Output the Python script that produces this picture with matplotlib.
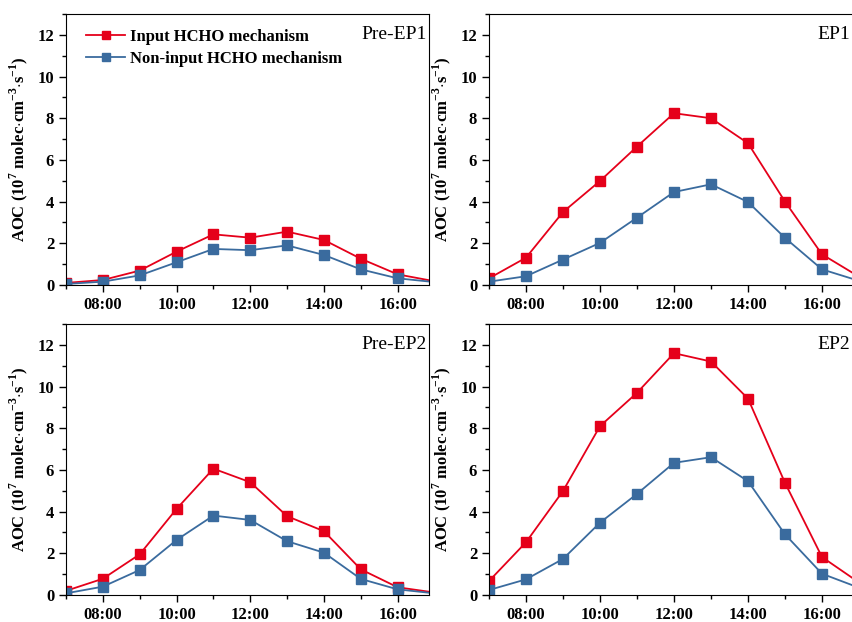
import numpy as np
import matplotlib.pyplot as plt
from matplotlib.ticker import MultipleLocator, FuncFormatter

plt.rcParams['font.family'] = ['Liberation Serif', 'DejaVu Serif']
plt.rcParams['mathtext.fontset'] = 'custom'
plt.rcParams['mathtext.rm'] = 'Liberation Serif:bold'
plt.rcParams['mathtext.bf'] = 'Liberation Serif:bold'

hours = np.arange(7, 18)  # 07:00 ... 17:00

panels = ['Pre-EP1', 'EP1', 'Pre-EP2', 'EP2']

# AOC values, 10^7 molec cm-3 s-1
pre_ep1_input = [0.10, 0.24, 0.69, 1.60, 2.43, 2.27, 2.56, 2.16, 1.26, 0.51, 0.18]
pre_ep1_non = [0.05, 0.16, 0.46, 1.09, 1.73, 1.67, 1.90, 1.44, 0.75, 0.32, 0.14]
ep1_input = [0.32, 1.31, 3.50, 4.99, 6.64, 8.24, 8.00, 6.80, 4.00, 1.47, 0.40]
ep1_non = [0.16, 0.42, 1.22, 2.02, 3.23, 4.46, 4.83, 3.98, 2.26, 0.75, 0.20]
pre_ep2_input = [0.20, 0.78, 1.95, 4.13, 6.06, 5.41, 3.78, 3.06, 1.23, 0.37, 0.12]
pre_ep2_non = [0.08, 0.40, 1.20, 2.64, 3.81, 3.60, 2.58, 2.03, 0.77, 0.27, 0.08]
ep2_input = [0.67, 2.53, 4.99, 8.10, 9.70, 11.60, 11.20, 9.42, 5.38, 1.82, 0.60]
ep2_non = [0.24, 0.75, 1.73, 3.47, 4.85, 6.34, 6.61, 5.46, 2.91, 1.02, 0.35]

series = [(pre_ep1_input, pre_ep1_non), (ep1_input, ep1_non),
          (pre_ep2_input, pre_ep2_non), (ep2_input, ep2_non)]

red = '#E5001A'
blue = '#3A6B9E'

fig = plt.figure(figsize=(8.53, 6.22), dpi=100)

W, H = 853, 622
# left, top, width, height of each axes in pixels
boxes = [(66, 14, 363, 271), (489, 14, 370, 271),
         (66, 324, 363, 271), (489, 324, 370, 271)]
xmax = [16.85, 17.0, 16.85, 17.0]

for i, (name, (s_in, s_non)) in enumerate(zip(panels, series)):
    x0, y0, w, h = boxes[i]
    ax = fig.add_axes([x0 / W, 1 - (y0 + h) / H, w / W, h / H])
    ax.plot(hours, s_in, '-s', color=red, lw=1.3, ms=7,
            label='Input HCHO mechanism')
    ax.plot(hours, s_non, '-s', color=blue, lw=1.3, ms=7,
            label='Non-input HCHO mechanism')
    ax.set_xlim(7, xmax[i])
    ax.set_ylim(0, 13)
    ax.xaxis.set_minor_locator(MultipleLocator(1))
    ax.yaxis.set_major_locator(MultipleLocator(2))
    ax.yaxis.set_minor_locator(MultipleLocator(1))
    ax.set_xticks([8, 10, 12, 14, 16])
    ax.xaxis.set_major_formatter(FuncFormatter(lambda v, p: '%02d:00' % int(round(v))))
    ax.tick_params(which='major', direction='out', length=5, width=1.0, labelsize=12)
    ax.tick_params(which='minor', direction='out', length=3, width=1.0)
    for lab in ax.get_xticklabels() + ax.get_yticklabels():
        lab.set_fontweight('bold')
    ax.set_ylabel(r'AOC (10$^{7}$ molec$\cdot$cm$^{-3}$$\cdot$s$^{-1}$)',
                  fontsize=12, fontweight='bold', labelpad=5)
    ax.text(0.995 if xmax[i] < 17 else 0.975, 0.925, name,
            transform=ax.transAxes, ha='right', va='center', fontsize=14)
    if i == 0:
        ax.legend(loc='upper left', bbox_to_anchor=(0.015, 1.0), frameon=False,
                  prop={'weight': 'bold', 'size': 12}, handlelength=2.3,
                  handletextpad=0.3, labelspacing=0.35, markerscale=0.75)

fig.savefig('out.png', dpi=100)
